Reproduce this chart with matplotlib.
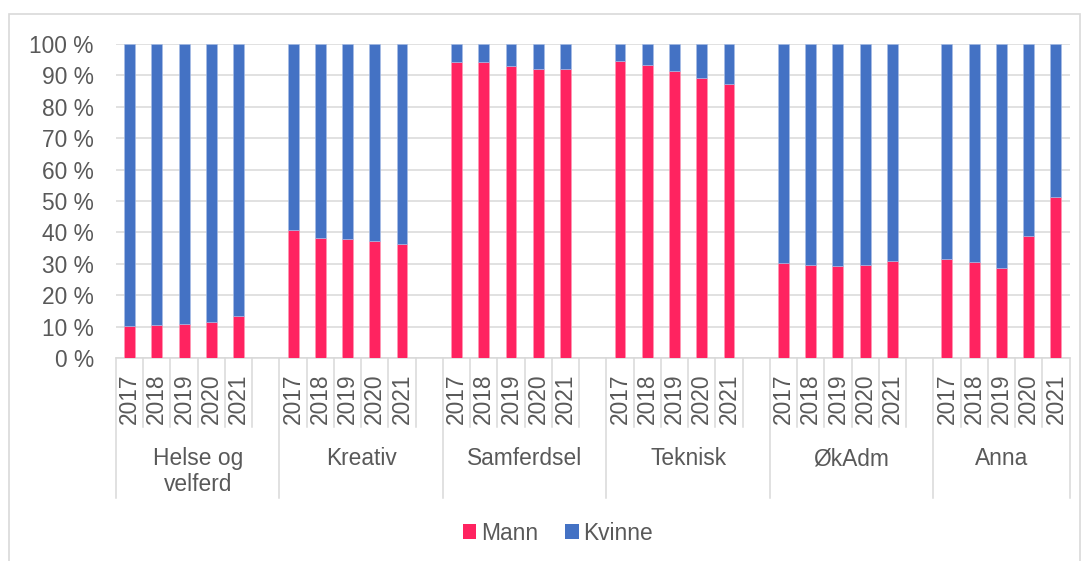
import matplotlib
matplotlib.use("Agg")
import matplotlib.pyplot as plt
import matplotlib.transforms as mtransforms
from matplotlib.patches import Rectangle, Patch

plt.rcParams['font.family'] = ['Liberation Sans', 'DejaVu Sans']

groups = ["Helse og\nvelferd", "Kreativ", "Samferdsel", "Teknisk", "ØkAdm", "Anna"]
years = ["2017", "2018", "2019", "2020", "2021"]
mann = [
    [10.2, 10.4, 10.7, 11.4, 13.4],
    [40.7, 38.1, 37.9, 37.2, 36.2],
    [94.2, 94.2, 93.1, 91.9, 92.1],
    [94.5, 93.2, 91.3, 89.3, 87.3],
    [30.4, 29.5, 29.2, 29.5, 30.8],
    [31.4, 30.7, 28.7, 38.8, 51.4],
]
series_names = ["Mann", "Kvinne"]
colors = ["#FF2360", "#4472C4"]
text_color = "#595959"
grid_color = "#D9D9D9"
fs = 16.4

W, H = 1085, 561
fig = plt.figure(figsize=(W / 100, H / 100), dpi=100)
ax_l, ax_r, ax_t, ax_b = 116, 1069.5, 44, 358
ax = fig.add_axes([ax_l / W, (H - ax_b) / H, (ax_r - ax_l) / W, (ax_b - ax_t) / H])

# outer border
fig.patches.append(Rectangle((9 / W, -0.02), (1080 - 9) / W, (H - 14) / H + 0.02,
                             transform=fig.transFigure, fill=False,
                             edgecolor=grid_color, linewidth=1.2, zorder=0))

slot = 6
xs, ms, ks = [], [], []
for g, vals in enumerate(mann):
    for j, v in enumerate(vals):
        xs.append(g * slot + j)
        ms.append(v)
        ks.append(100 - v)

bw = 0.4
ax.bar(xs, ms, width=bw, color=colors[0], edgecolor="#ff9ab5", linewidth=0.4, zorder=3)
ax.bar(xs, ks, bottom=ms, width=bw, color=colors[1], edgecolor="#a9bfe8", linewidth=0.4, zorder=3)

n_slots = slot * (len(groups) - 1) + len(years)
ax.set_xlim(-0.5, n_slots - 0.5)
ax.set_ylim(0, 100)
ax.set_yticks(range(0, 101, 10))
ax.set_yticklabels([f"{v} %" for v in range(0, 101, 10)])
ax.tick_params(axis='y', length=0, pad=16, labelsize=fs, labelcolor=text_color)
ax.set_xticks([])
ax.grid(axis='y', color=grid_color, linewidth=1.1, zorder=0)
ax.set_axisbelow(True)
for s in ["top", "right", "left"]:
    ax.spines[s].set_visible(False)
ax.spines["bottom"].set_color(grid_color)
ax.spines["bottom"].set_linewidth(1.1)

trans = mtransforms.blended_transform_factory(ax.transData, ax.transAxes)
ah = ax_b - ax_t
y_year = -(427 - ax_b) / ah
y_group = -(498 - ax_b) / ah

for g, name in enumerate(groups):
    start = g * slot - 0.5
    nslots = slot if g < len(groups) - 1 else len(years)
    end = start + nslots
    # group separator(s)
    ax.plot([start, start], [0, y_group], transform=trans, color=grid_color,
            lw=1.1, clip_on=False)
    if g == len(groups) - 1:
        ax.plot([end, end], [0, y_group], transform=trans, color=grid_color,
                lw=1.1, clip_on=False)
    # year separators
    for k in range(1, nslots):
        xb = start + k
        ax.plot([xb, xb], [0, y_year], transform=trans, color=grid_color,
                lw=1.1, clip_on=False)
    for j, yr in enumerate(years):
        ax.text(g * slot + j, -15 / ah, yr, transform=trans, rotation=90,
                ha='center', va='top', fontsize=fs, color=text_color)
    ax.text((start + end) / 2, -(447 - ax_b) / ah, name, transform=trans,
            ha='center', va='top', fontsize=fs, color=text_color,
            linespacing=1.15, multialignment='center')

handles = [Patch(facecolor=c, edgecolor='none') for c in colors]
fig.legend(handles, series_names, loc='center', bbox_to_anchor=(558 / W, (H - 533) / H),
           ncol=2, frameon=False, fontsize=fs, handlelength=0.6, handleheight=0.6,
           handletextpad=0.2, columnspacing=1.2, labelcolor=text_color)

fig.savefig("out.png", dpi=100)
